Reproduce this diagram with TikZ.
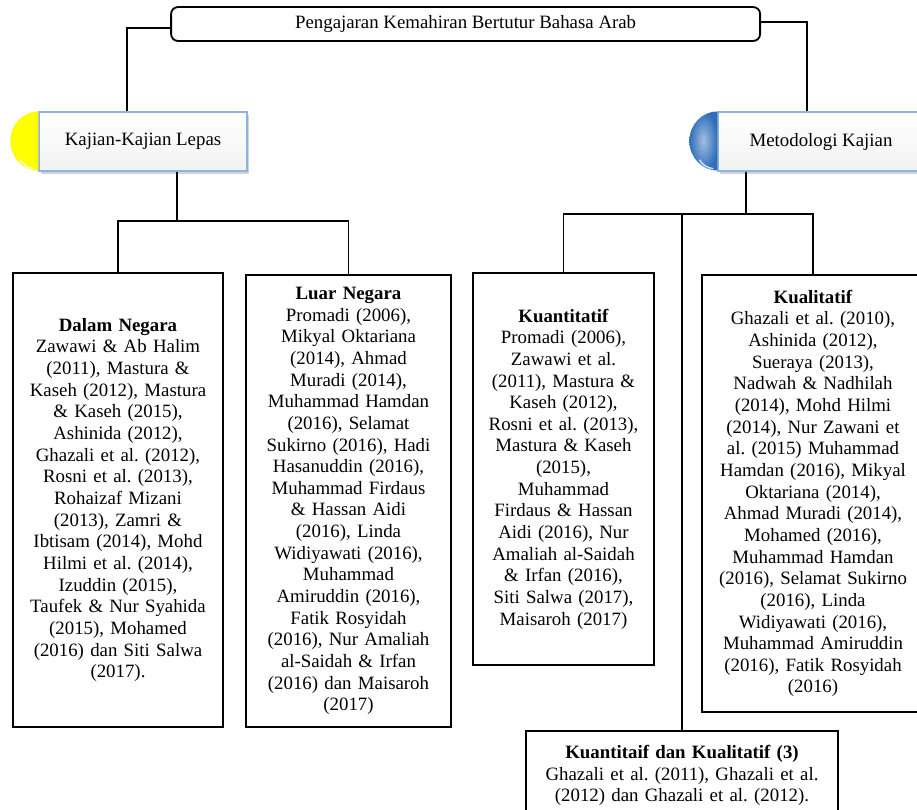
\documentclass[tikz,border=0pt]{standalone}
\usepackage{fontspec}
\setmainfont{Liberation Serif}
\usetikzlibrary{shadows}
\frenchspacing

\definecolor{capyellow}{HTML}{FFFF00}
\definecolor{capblue}{HTML}{2F6EBA}
\definecolor{edgeblue}{HTML}{8DB3E2}

\tikzset{
  textsize/.style={font=\fontsize{13.4}{15.4}\selectfont},
  refbox/.style={draw, line width=1.3pt, fill=white, align=center, textsize},
  topicbox/.style={draw=edgeblue, line width=0.9pt, top color=white, bottom color=gray!10,
    minimum height=1.475cm, textsize,
    drop shadow={opacity=0.35, shadow xshift=0.06cm, shadow yshift=-0.08cm}},
  link/.style={line width=1.4pt},
}

\begin{document}
\begin{tikzpicture}
            \useasboundingbox (0,0) rectangle (22.925,-20.225);

            % Title
            \node[draw, rounded corners=5pt, line width=1.3pt, minimum width=14.725cm, minimum height=0.85cm, textsize] (top) at (11.64,-0.6) {Pengajaran Kemahiran Bertutur Bahasa Arab};

            % Topics
            \node[topicbox, minimum width=5.2cm] (kajian) at (3.575,-3.54) {Kajian-Kajian Lepas};
            \node[topicbox, minimum width=5.15cm] (metod) at (20.525,-3.54) {Metodologi Kajian};

            % Caps
            \fill[capyellow] (kajian.north west) arc[start angle=90, end angle=270, x radius=0.7cm, y radius=0.7375cm] -- cycle;
            \draw[white, line width=1pt, opacity=0.8] ([xshift=-0.45cm, yshift=0.3cm]kajian.south west) arc[start angle=210, end angle=265, radius=0.45cm];
            \shade[inner color=capblue!45!white, outer color=capblue] (metod.north west) arc[start angle=90, end angle=270, x radius=0.7cm, y radius=0.7375cm] -- cycle;
            \draw[white, line width=1pt, opacity=0.8] ([xshift=-0.45cm, yshift=0.3cm]metod.south west) arc[start angle=210, end angle=265, radius=0.45cm];

            % Studies
            \node[refbox, minimum width=5.25cm, minimum height=11.35cm, text width=5cm] (dalam) at (2.95,-12.5) {\textbf{Dalam Negara}\\
              Zawawi \& Ab Halim\\ (2011), Mastura \&\\ Kaseh (2012), Mastura\\ \& Kaseh (2015),\\ Ashinida (2012),\\
              Ghazali et al. (2012),\\ Rosni et al. (2013),\\ Rohaizaf Mizani\\ (2013), Zamri \&\\ Ibtisam (2014), Mohd\\
              Hilmi et al. (2014),\\ Izuddin (2015),\\ Taufek \& Nur Syahida\\ (2015), Mohamed\\ (2016) dan Siti Salwa\\ (2017).};
            \node[refbox, minimum width=5.125cm, minimum height=11.3cm, text width=4.9cm] (luar) at (8.7125,-12.525) {\textbf{Luar Negara}\\
              Promadi (2006),\\ Mikyal Oktariana\\ (2014), Ahmad\\ Muradi (2014),\\ Muhammad Hamdan\\ (2016), Selamat\\
              Sukirno (2016), Hadi\\ Hasanuddin (2016),\\ Muhammad Firdaus\\ \& Hassan Aidi\\ (2016), Linda\\
              Widiyawati (2016),\\ Muhammad\\ Amiruddin (2016),\\ Fatik Rosyidah\\ (2016), Nur Amaliah\\
              al-Saidah \& Irfan\\ (2016) dan Maisaroh\\ (2017)};

            % Methods
            \node[refbox, minimum width=4.525cm, minimum height=9.8cm, text width=4.3cm] (kuant) at (14.0875,-11.725) {\textbf{Kuantitatif}\\
              Promadi (2006),\\ Zawawi et al.\\ (2011), Mastura \&\\ Kaseh (2012),\\ Rosni et al. (2013),\\ Mastura \& Kaseh\\
              (2015),\\ Muhammad\\ Firdaus \& Hassan\\ Aidi (2016), Nur\\ Amaliah al-Saidah\\ \& Irfan (2016),\\
              Siti Salwa (2017),\\ Maisaroh (2017)};
            \node[refbox, minimum width=5.55cm, minimum height=10.925cm, text width=5.3cm] (kual) at (20.325,-12.3375) {\textbf{Kualitatif}\\
              Ghazali et al. (2010),\\ Ashinida (2012),\\ Sueraya (2013),\\ Nadwah \& Nadhilah\\ (2014), Mohd Hilmi\\
              (2014), Nur Zawani et\\ al. (2015) Muhammad\\ Hamdan (2016), Mikyal\\ Oktariana (2014),\\ Ahmad Muradi (2014),\\
              Mohamed (2016),\\ Muhammad Hamdan\\ (2016), Selamat Sukirno\\ (2016), Linda\\ Widiyawati (2016),\\
              Muhammad Amiruddin\\ (2016), Fatik Rosyidah\\ (2016)};
            \node[refbox, minimum width=7.8cm, minimum height=2.225cm, text width=7.5cm] (both) at (17.05,-19.3875) {\textbf{Kuantitaif dan Kualitatif (3)}\\
              Ghazali et al. (2011), Ghazali et al.\\ (2012) dan Ghazali et al. (2012).};

            % Links
            \draw[link] ([yshift=-0.1cm]top.west) -| ([xshift=-0.4cm]kajian.north);
            \draw[link] ([yshift=0.05cm]top.east) -| ([xshift=-0.35cm]metod.north);

            \coordinate (kbar) at (0,-5.525);
            \draw[link] ([xshift=0.85cm]kajian.south) -- ([xshift=0.85cm]kajian.south |- kbar);
            \draw[link] (dalam.north) -- (dalam.north |- kbar) -- (luar.north |- kbar) -- (luar.north);

            \coordinate (mbar) at (0,-5.35);
            \draw[link] ([xshift=-1.875cm]metod.south) -- ([xshift=-1.875cm]metod.south |- mbar);
            \draw[link] (kuant.north) -- (kuant.north |- mbar) -- (kual.north |- mbar) -- (kual.north);
            \draw[link] (both.north |- mbar) -- (both.north);
\end{tikzpicture}
\end{document}
